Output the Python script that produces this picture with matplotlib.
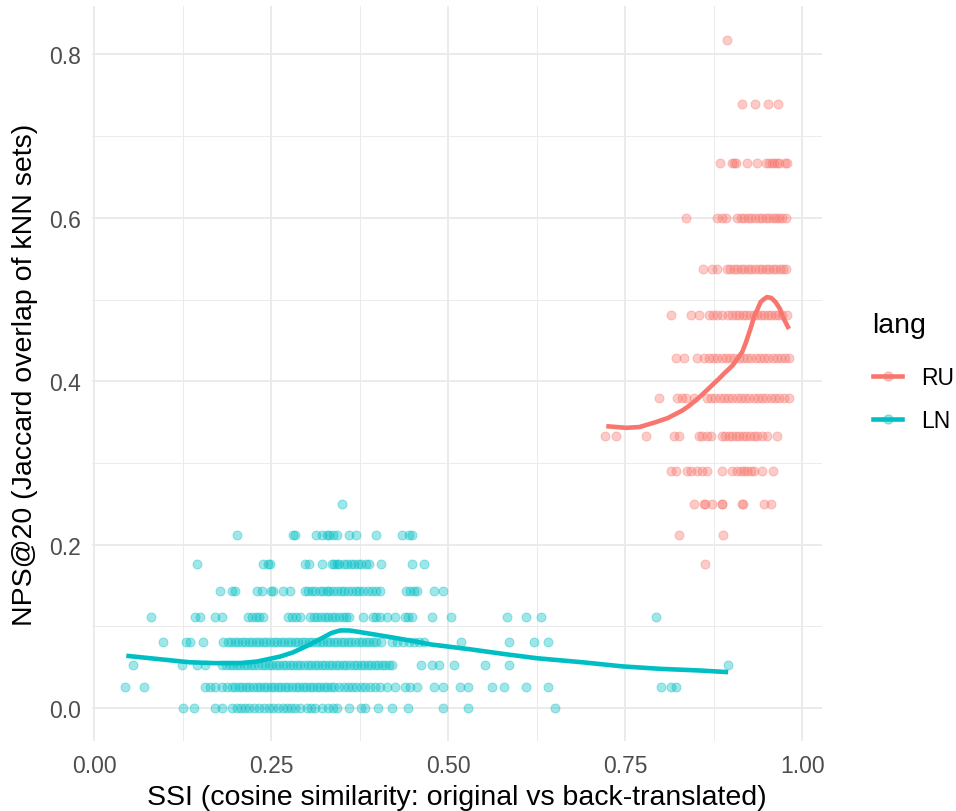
import matplotlib
matplotlib.use("Agg")
import matplotlib.pyplot as plt
from matplotlib.lines import Line2D
from matplotlib.ticker import MultipleLocator

plt.rcParams["font.family"] = ["Liberation Sans", "DejaVu Sans"]

RU_COLOR = "#F8766D"
LN_COLOR = "#00BFC4"

# NPS@20 levels (discrete Jaccard values) and the SSI positions of the points on each level
ln_levels = [0.0, 0.026, 0.053, 0.081, 0.111, 0.143, 0.176, 0.212, 0.25]
ln_ssi = [
    [0.125, 0.140, 0.170, 0.180, 0.195, 0.201, 0.207, 0.213, 0.219, 0.226, 0.233, 0.240,
     0.246, 0.252, 0.259, 0.266, 0.272, 0.277, 0.283, 0.290, 0.300, 0.306, 0.312, 0.321,
     0.330, 0.337, 0.342, 0.360, 0.377, 0.382, 0.400, 0.421, 0.443, 0.492, 0.527, 0.650],
    [0.043, 0.070, 0.156, 0.163, 0.170, 0.180, 0.187, 0.194, 0.199, 0.204, 0.209, 0.214,
     0.219, 0.224, 0.229, 0.234, 0.239, 0.244, 0.249, 0.254, 0.259, 0.264, 0.269, 0.274,
     0.279, 0.284, 0.289, 0.294, 0.299, 0.304, 0.309, 0.314, 0.319, 0.324, 0.329, 0.334,
     0.339, 0.346, 0.352, 0.358, 0.364, 0.370, 0.376, 0.382, 0.389, 0.396, 0.404, 0.413,
     0.424, 0.438, 0.446, 0.455, 0.480, 0.492, 0.516, 0.527, 0.562, 0.578, 0.610, 0.641,
     0.800, 0.814, 0.821],
    [0.054, 0.123, 0.145, 0.156, 0.180, 0.186, 0.191, 0.196, 0.201, 0.206, 0.211, 0.216,
     0.221, 0.226, 0.231, 0.236, 0.241, 0.246, 0.251, 0.256, 0.261, 0.266, 0.271, 0.276,
     0.281, 0.286, 0.291, 0.296, 0.301, 0.306, 0.311, 0.316, 0.321, 0.326, 0.331, 0.336,
     0.341, 0.346, 0.351, 0.356, 0.361, 0.366, 0.371, 0.376, 0.381, 0.386, 0.391, 0.396,
     0.401, 0.406, 0.411, 0.416, 0.421, 0.461, 0.477, 0.487, 0.508, 0.551, 0.585, 0.895],
    [0.097, 0.130, 0.135, 0.153, 0.182, 0.188, 0.193, 0.198, 0.203, 0.208, 0.213, 0.218,
     0.223, 0.228, 0.233, 0.238, 0.243, 0.248, 0.253, 0.258, 0.263, 0.268, 0.273, 0.278,
     0.283, 0.288, 0.293, 0.298, 0.303, 0.308, 0.313, 0.318, 0.323, 0.328, 0.333, 0.338,
     0.343, 0.348, 0.353, 0.358, 0.363, 0.368, 0.373, 0.378, 0.383, 0.388, 0.393, 0.398,
     0.405, 0.421, 0.428, 0.436, 0.444, 0.452, 0.459, 0.466, 0.518, 0.585, 0.621, 0.640],
    [0.080, 0.142, 0.149, 0.170, 0.180, 0.217, 0.222, 0.228, 0.233, 0.238, 0.273, 0.279,
     0.285, 0.290, 0.304, 0.310, 0.315, 0.320, 0.325, 0.330, 0.335, 0.340, 0.346, 0.351,
     0.356, 0.360, 0.379, 0.393, 0.398, 0.404, 0.413, 0.424, 0.438, 0.443, 0.449, 0.477,
     0.504, 0.583, 0.610, 0.631, 0.793],
    [0.178, 0.194, 0.198, 0.229, 0.236, 0.250, 0.252, 0.266, 0.276, 0.297, 0.302, 0.307,
     0.312, 0.318, 0.323, 0.328, 0.332, 0.337, 0.342, 0.348, 0.353, 0.358, 0.364, 0.369,
     0.374, 0.380, 0.386, 0.392, 0.398, 0.403, 0.440, 0.446, 0.452, 0.455, 0.480, 0.492],
    [0.145, 0.238, 0.245, 0.248, 0.297, 0.303, 0.322, 0.335, 0.339, 0.342, 0.346, 0.352,
     0.357, 0.362, 0.367, 0.372, 0.377, 0.383, 0.388, 0.405, 0.449, 0.465],
    [0.201, 0.280, 0.283, 0.313, 0.321, 0.328, 0.332, 0.337, 0.342, 0.359, 0.369, 0.397,
     0.434, 0.445, 0.448],
    [0.350],
]

ru_levels = [0.176, 0.212, 0.25, 0.29, 0.333, 0.379, 0.429, 0.481, 0.538, 0.6, 0.667, 0.739, 0.818]
ru_ssi = [
    [0.862],
    [0.826, 0.888],
    [0.847, 0.861, 0.862, 0.872, 0.886, 0.887, 0.915, 0.916, 0.946, 0.956],
    [0.815, 0.822, 0.837, 0.843, 0.851, 0.858, 0.865, 0.886, 0.901, 0.908, 0.913, 0.918,
     0.922, 0.927, 0.932, 0.943, 0.958],
    [0.7215, 0.737, 0.779, 0.819, 0.826, 0.854, 0.858, 0.865, 0.871, 0.886, 0.891, 0.896,
     0.901, 0.906, 0.911, 0.916, 0.921, 0.926, 0.931, 0.936, 0.943, 0.950, 0.964],
    [0.798, 0.823, 0.830, 0.836, 0.847, 0.865, 0.871, 0.877, 0.883, 0.889, 0.895, 0.901,
     0.907, 0.913, 0.919, 0.925, 0.931, 0.937, 0.943, 0.949, 0.955, 0.961, 0.967, 0.974,
     0.981],
    [0.822, 0.833, 0.851, 0.861, 0.868, 0.874, 0.880, 0.886, 0.892, 0.898, 0.904, 0.910,
     0.916, 0.922, 0.928, 0.934, 0.940, 0.946, 0.952, 0.958, 0.964, 0.970, 0.976, 0.981],
    [0.815, 0.843, 0.854, 0.868, 0.874, 0.880, 0.887, 0.895, 0.901, 0.906, 0.911, 0.916,
     0.921, 0.926, 0.931, 0.936, 0.941, 0.946, 0.951, 0.956, 0.961, 0.966, 0.971, 0.978],
    [0.859, 0.873, 0.879, 0.893, 0.898, 0.903, 0.908, 0.913, 0.918, 0.923, 0.928, 0.933,
     0.938, 0.943, 0.948, 0.953, 0.958, 0.963, 0.968, 0.973, 0.977],
    [0.836, 0.880, 0.887, 0.892, 0.908, 0.913, 0.918, 0.923, 0.928, 0.933, 0.938, 0.943,
     0.948, 0.953, 0.958, 0.963, 0.967, 0.971, 0.977],
    [0.884, 0.901, 0.903, 0.906, 0.922, 0.936, 0.949, 0.953, 0.957, 0.960, 0.964, 0.967,
     0.975, 0.978],
    [0.915, 0.933, 0.952, 0.966],
    [0.893],
]

# loess smooth curves
ln_smooth_x = [0.045, 0.090, 0.135, 0.170, 0.206, 0.230, 0.262, 0.280, 0.300, 0.320,
               0.335, 0.347, 0.360, 0.375, 0.417, 0.450, 0.474, 0.530, 0.580, 0.625,
               0.690, 0.746, 0.800, 0.855, 0.895]
ln_smooth_y = [0.064, 0.060, 0.056, 0.055, 0.055, 0.057, 0.063, 0.068, 0.076, 0.085,
               0.092, 0.095, 0.095, 0.093, 0.087, 0.082, 0.078, 0.072, 0.066, 0.061,
               0.056, 0.051, 0.048, 0.046, 0.044]
ru_smooth_x = [0.723, 0.737, 0.751, 0.770, 0.793, 0.810, 0.830, 0.840, 0.854, 0.865,
               0.882, 0.890, 0.901, 0.908, 0.915, 0.920, 0.925, 0.928, 0.932, 0.936,
               0.941, 0.945, 0.950, 0.956, 0.962, 0.968, 0.974, 0.981]
ru_smooth_y = [0.345, 0.344, 0.343, 0.344, 0.350, 0.355, 0.364, 0.370, 0.380, 0.389,
               0.403, 0.410, 0.419, 0.427, 0.436, 0.447, 0.460, 0.468, 0.480, 0.487,
               0.497, 0.500, 0.503, 0.502, 0.497, 0.489, 0.476, 0.464]


def flatten(levels, rows):
    xs, ys = [], []
    for lev, row in zip(levels, rows):
        xs.extend(row)
        ys.extend([lev] * len(row))
    return xs, ys


fig = plt.figure(figsize=(9.56, 8.12), dpi=100)
ax = fig.add_axes([0.0959, 0.0856, 0.860 - 0.0959, 0.991 - 0.0856])

groups = [("RU", ru_levels, ru_ssi, ru_smooth_x, ru_smooth_y, RU_COLOR),
          ("LN", ln_levels, ln_ssi, ln_smooth_x, ln_smooth_y, LN_COLOR)]

for name, levels, rows, sx, sy, color in groups:
    xs, ys = flatten(levels, rows)
    ax.scatter(xs, ys, s=42, color=color, alpha=0.38, edgecolors=color,
               linewidths=0.7, zorder=2)
for name, levels, rows, sx, sy, color in groups:
    ax.plot(sx, sy, color=color, lw=3.3, solid_capstyle="butt",
            solid_joinstyle="round", zorder=3)

ax.margins(x=0.05, y=0.05)
ax.xaxis.set_major_locator(MultipleLocator(0.25))
ax.xaxis.set_minor_locator(MultipleLocator(0.125))
ax.yaxis.set_major_locator(MultipleLocator(0.2))
ax.yaxis.set_minor_locator(MultipleLocator(0.1))
ax.xaxis.set_major_formatter(plt.FuncFormatter(lambda v, p: f"{v:.2f}"))
ax.yaxis.set_major_formatter(plt.FuncFormatter(lambda v, p: f"{v:.1f}"))

ax.grid(which="major", color="#EBEBEB", lw=1.4)
ax.grid(which="minor", color="#EBEBEB", lw=0.7)
ax.set_axisbelow(True)
for sp in ax.spines.values():
    sp.set_visible(False)
ax.tick_params(which="both", length=0)
ax.tick_params(axis="both", labelsize=16.5, labelcolor="#4D4D4D")
ax.tick_params(axis="x", pad=9)
ax.tick_params(axis="y", pad=8)

ax.set_xlabel("SSI (cosine similarity: original vs back-translated)", fontsize=20.5, labelpad=5)
ax.set_ylabel("NPS@20 (Jaccard overlap of kNN sets)", fontsize=20.5, labelpad=8)

handles = []
for name, levels, rows, sx, sy, color in groups:
    ln = Line2D([], [], color=color, lw=3.3)
    pt = Line2D([], [], ls="", marker="o", ms=6.5, color=color, alpha=0.38)
    handles.append((ln, pt))
leg = fig.legend(handles, ["RU", "LN"], title="lang", loc="center left",
                 bbox_to_anchor=(852 / 956, 1 - 373 / 812), frameon=False,
                 fontsize=16.5, title_fontsize=20.5, handlelength=1.3,
                 handletextpad=0.8, labelspacing=0.85, alignment="left")
leg._legend_box.sep = 20

fig.savefig("out.png", dpi=100, facecolor="white")
